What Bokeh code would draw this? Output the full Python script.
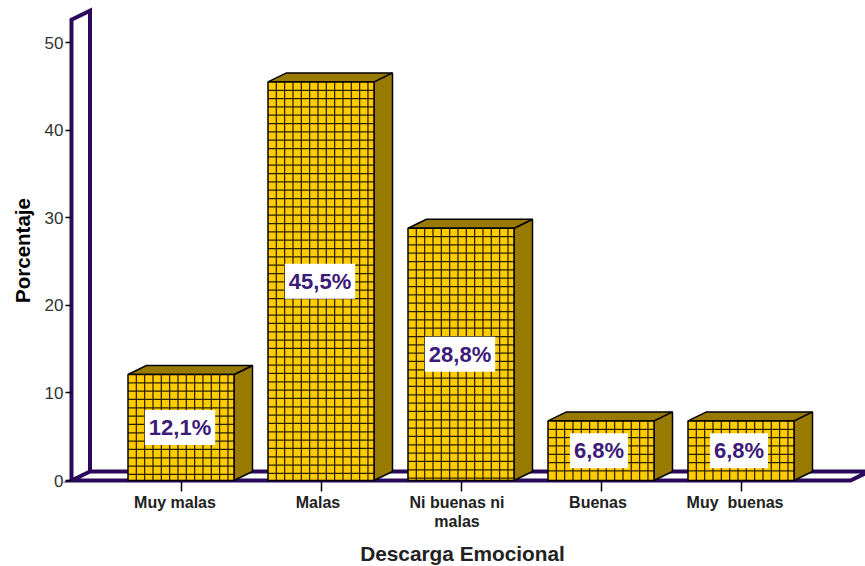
from bokeh.core.properties import value
from bokeh.embed import file_html
from bokeh.models import ColumnDataSource, FixedTicker, Label, LabelSet, LinearAxis, Range1d
from bokeh.plotting import figure
from bokeh.resources import INLINE

categories = ["Muy malas", "Malas", "Ni buenas ni\nmalas", "Buenas", "Muy \u00a0buenas"]
values = [12.1, 45.5, 28.8, 6.8, 6.8]
value_labels = ["12,1%", "45,5%", "28,8%", "6,8%", "6,8%"]
y_ticks = [0, 10, 20, 30, 40, 50]

W, H = 865, 566
X0_PX, PX_PER_CAT = 180.5, 140         # first category centre, category pitch
Y0_PX, PX_PER_UNIT = 480, 8.76         # value 0 position, pixels per percent
WALL_LEFT_PX = 71
WALL_TOP = 52.6
RIGHT_END_PX = 850
NAME_NUDGE = [-6, -3, -4, -3, -6]      # horizontal shift of each category name, px
LINE_STEP_PX = 19                      # spacing of wrapped category names


def data_x(px):
    return (px - X0_PX) / PX_PER_CAT


def data_y(px):
    return (Y0_PX - px) / PX_PER_UNIT


dx = 18.5 / PX_PER_CAT                 # oblique depth in category units
dy = 9 / PX_PER_UNIT                   # oblique depth in percent units
half_w = 53 / PX_PER_CAT
cell_x = 8.33 / PX_PER_CAT
cell_y = 8.33 / PX_PER_UNIT

INK = "#2b0a5c"
FACE = "#ffcc00"
SHADE = "#997a00"
FONT = "Liberation Sans"

# The frame fills the page; the axes are pinned to the wall and the floor.
p = figure(
    width=W, height=H, output_backend="svg", toolbar_location=None,
    x_range=Range1d(data_x(0), data_x(W)),
    y_range=Range1d(data_y(H), data_y(0)),
    x_axis_location=None, y_axis_location=None,
    min_border_left=0, min_border_right=0, min_border_top=0, min_border_bottom=0,
)
p.outline_line_color = None
p.grid.visible = False
p.background_fill_color = "white"

wall_x = data_x(WALL_LEFT_PX)
floor_end = data_x(RIGHT_END_PX)

# Back wall and floor outlines
p.line([wall_x, wall_x, wall_x + dx, wall_x + dx, wall_x, floor_end, floor_end + dx, wall_x + dx],
       [0, WALL_TOP, WALL_TOP + dy, dy, 0, 0, dy, dy],
       line_color=INK, line_width=4, line_join="miter")

y_axis = LinearAxis(fixed_location=wall_x, ticker=FixedTicker(ticks=y_ticks))
y_axis.axis_line_color = None
y_axis.major_tick_in = 0
y_axis.major_tick_out = 6
y_axis.minor_tick_line_color = None
y_axis.major_tick_line_color = "black"
y_axis.major_tick_line_width = 1.5
y_axis.major_label_standoff = 2
y_axis.major_label_text_font = FONT
y_axis.major_label_text_font_size = "17px"
y_axis.major_label_text_color = "#333333"
p.add_layout(y_axis, "left")

# Category names sit slightly off their ticks, so they are placed as a label set.
x_axis = LinearAxis(fixed_location=0, ticker=FixedTicker(ticks=list(range(len(categories)))))
x_axis.major_label_overrides = {i: "" for i in range(len(categories))}
x_axis.axis_line_color = None
x_axis.major_tick_in = 0
x_axis.major_tick_out = 11
x_axis.minor_tick_line_color = None
x_axis.major_tick_line_color = "black"
x_axis.major_tick_line_width = 1.5
p.add_layout(x_axis, "below")

# Bars: side and top faces, then the front face with its lattice
side_xs, side_ys, top_xs, top_ys, grid_xs, grid_ys = [], [], [], [], [], []
lefts, rights = [], []
for i, v in enumerate(values):
    l, r = i - half_w, i + half_w
    lefts.append(l)
    rights.append(r)
    side_xs.append([r, r + dx, r + dx, r])
    side_ys.append([0, dy, v + dy, v])
    top_xs.append([l, l + dx, r + dx, r])
    top_ys.append([v, v + dy, v + dy, v])
    x = l + cell_x
    while x < r - cell_x / 4:
        grid_xs.append([x, x])
        grid_ys.append([0, v])
        x += cell_x
    y = v - cell_y
    while y > cell_y / 4:
        grid_xs.append([l, r])
        grid_ys.append([y, y])
        y -= cell_y

p.patches(side_xs, side_ys, fill_color=SHADE, line_color="black", line_width=1.5)
p.patches(top_xs, top_ys, fill_color=SHADE, line_color="black", line_width=1.5)
p.quad(left=lefts, right=rights, bottom=0, top=values, fill_color=FACE, line_color=None)
p.multi_line(grid_xs, grid_ys, line_color="#2a2000", line_width=1.25)
p.quad(left=lefts, right=rights, bottom=0, top=values, fill_color=None,
       line_color="black", line_width=1.5)

# Value labels on white plates, at half the height of each bar
labels = ColumnDataSource(dict(
    x=list(range(len(values))),
    y=[v / 2 for v in values],
    text=value_labels,
    nudge=[-1, -1, -1, -2, -2],
))
p.text(x="x", y="y", text="text", source=labels, x_offset="nudge", text_align="center",
       text_baseline="middle", text_font=value(FONT), text_font_style="bold",
       text_font_size="22px", text_color="#3b1a78", background_fill_color="white",
       padding=(4, 5))

# Category names under the floor; wrapped names get one centred row per line
name_rows = dict(x=[], y=[], text=[], nudge=[])
for i, name in enumerate(categories):
    for row, part in enumerate(name.split("\n")):
        name_rows["x"].append(i)
        name_rows["y"].append(data_y(493 + row * LINE_STEP_PX))
        name_rows["text"].append(part)
        name_rows["nudge"].append(NAME_NUDGE[i])
p.add_layout(LabelSet(x="x", y="y", text="text", source=ColumnDataSource(name_rows), x_offset="nudge",
                      text_align="center", text_baseline="top", text_font=value(FONT),
                      text_font_style="bold", text_font_size="16px", text_color="#222222"))

# Axis titles
p.add_layout(Label(x=data_x(462), y=data_y(553), text="Descarga Emocional",
                   text_align="center", text_baseline="middle", text_font=FONT,
                   text_font_style="bold", text_font_size="20.8px", text_color="#222222"))
p.add_layout(Label(x=data_x(22), y=data_y(250), text="Porcentaje",
                   text_align="center", text_baseline="middle", angle=90, angle_units="deg",
                   text_font=FONT, text_font_style="bold", text_font_size="20.5px",
                   text_color="black"))

open("out.html", "w").write(file_html(p, INLINE))
